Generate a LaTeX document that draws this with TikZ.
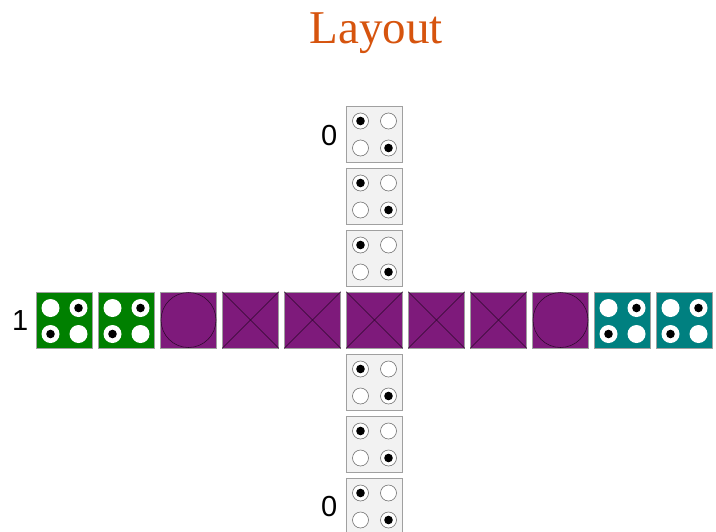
\documentclass[tikz,border=0pt]{standalone}
\usepackage{fontspec}
\setmainfont{Liberation Serif}
\setsansfont{Liberation Sans}
\usetikzlibrary{positioning,calc}
\definecolor{titleorange}{RGB}{214,84,14}
\definecolor{safegrey}{RGB}{242,242,242}
\definecolor{edgegrey}{RGB}{160,160,160}
\definecolor{pathpurple}{RGB}{126,26,123}
\definecolor{homegreen}{RGB}{0,128,0}
\definecolor{hometeal}{RGB}{0,128,128}

% pips of a grey square: rings, with dots top left and bottom right
\newcommand{\greypips}[1]{
  \foreach \dx/\dy in {-14/-13,14/-13,-14/14,14/14}
    \draw[black!55,fill=white,line width=0.6pt] ($(#1)+(\dx,\dy)$) circle (8);
  \foreach \dx/\dy in {-14/-13,14/14}
    \fill[black] ($(#1)+(\dx,\dy)$) circle (4.3);
}
% pips of a home square: white discs, with dots top right and bottom left
\newcommand{\homepips}[1]{
  \foreach \dx/\dy in {-14/-12,14/-12,-14/14,14/14}
    \fill[white] ($(#1)+(\dx,\dy)$) circle (9);
  \foreach \dx/\dy in {14/-12,-14/14}
    \fill[black] ($(#1)+(\dx,\dy)$) circle (4.3);
}
\newcommand{\crossmark}[1]{
  \draw[pathline] (#1.north west) -- (#1.south east);
  \draw[pathline] (#1.north east) -- (#1.south west);
}
\newcommand{\ringmark}[1]{
  \draw[pathline] (#1) circle (27.5);
}

\begin{document}
\begin{tikzpicture}[x=1pt, y=-1pt, node distance=5.4pt,
  cell/.style={rectangle,draw=edgegrey,line width=0.6pt,minimum size=56pt,inner sep=0pt},
  safecell/.style={cell,fill=safegrey},
  pathcell/.style={cell,fill=pathpurple},
  greencell/.style={cell,fill=homegreen},
  tealcell/.style={cell,fill=hometeal},
  pathline/.style={draw=black!65!pathpurple,line width=0.55pt},
  marker/.style={font=\sffamily\fontsize{29}{34}\selectfont,inner sep=0pt}]
  \useasboundingbox (0,0) rectangle (716,531);

  \node[font=\fontsize{47}{56}\selectfont,text=titleorange,anchor=base] (title) at (376,43) {Layout};

  % row across the middle
  \node[pathcell] (c) at (374.5,320) {};
  \node[pathcell,left=of c] (w1) {};
  \node[pathcell,left=of w1] (w2) {};
  \node[pathcell,left=of w2] (w3) {};
  \node[greencell,left=of w3] (w4) {};
  \node[greencell,left=of w4] (w5) {};
  \node[pathcell,right=of c] (e1) {};
  \node[pathcell,right=of e1] (e2) {};
  \node[pathcell,right=of e2] (e3) {};
  \node[tealcell,right=of e3] (e4) {};
  \node[tealcell,right=of e4] (e5) {};

  % column up and down
  \node[safecell,above=of c] (n1) {};
  \node[safecell,above=of n1] (n2) {};
  \node[safecell,above=of n2] (n3) {};
  \node[safecell,below=of c] (s1) {};
  \node[safecell,below=of s1] (s2) {};
  \node[safecell,below=of s2] (s3) {};

  \crossmark{c}
  \crossmark{w1}
  \crossmark{w2}
  \crossmark{e1}
  \crossmark{e2}
  \ringmark{w3}
  \ringmark{e3}
  \foreach \h in {w4,w5,e4,e5} {\homepips{\h}}
  \foreach \s in {n1,n2,n3,s1,s2,s3} {\greypips{\s}}

  \node[marker,anchor=base east] (topmark) at (337.5,145) {0};
  \node[marker,anchor=base east] (rowmark) at (28.5,330) {1};
  \node[marker,anchor=base east] (botmark) at (337.5,516) {0};
\end{tikzpicture}
\end{document}
